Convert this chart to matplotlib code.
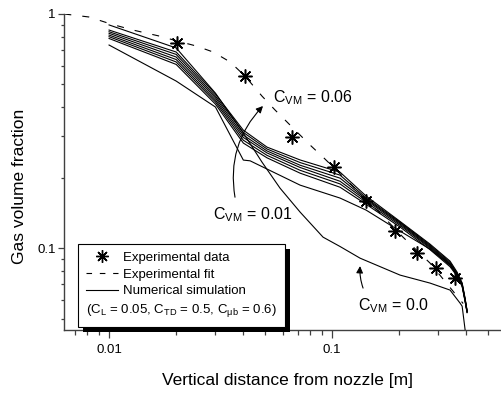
import matplotlib
matplotlib.use('Agg')
import matplotlib.pyplot as plt
from matplotlib.lines import Line2D
from matplotlib.patches import Rectangle
from matplotlib.transforms import IdentityTransform
from matplotlib.ticker import FixedLocator, FixedFormatter, LogLocator, NullFormatter

plt.rcParams['font.family'] = ['Liberation Sans', 'DejaVu Sans']
plt.rcParams['mathtext.fontset'] = 'custom'
plt.rcParams['mathtext.rm'] = 'Liberation Sans'
plt.rcParams['mathtext.it'] = 'Liberation Sans:italic'
plt.rcParams['mathtext.bf'] = 'Liberation Sans:bold'

# ---------------- data ----------------
x_exp = [0.0201, 0.0408, 0.066, 0.1024, 0.142, 0.1916, 0.240, 0.2916, 0.356]
y_exp = [0.754, 0.543, 0.299, 0.2226, 0.159, 0.1186, 0.0955, 0.0819, 0.0742]

x_fit = [0.0063, 0.00813, 0.0102, 0.0128, 0.0168, 0.0202, 0.0246, 0.0293, 0.0349,
         0.0407, 0.0485, 0.0555, 0.0697, 0.0797, 0.0911, 0.129, 0.164, 0.208, 0.275, 0.387]
y_fit = [1.0, 0.971, 0.906, 0.854, 0.805, 0.767, 0.730, 0.688, 0.624,
         0.543, 0.446, 0.389, 0.313, 0.2756, 0.2447, 0.177, 0.141, 0.1114, 0.0863, 0.058]

# C_VM = 0.0 simulation
x_cvm0 = [0.01, 0.02, 0.03, 0.04, 0.0485, 0.0584, 0.0719, 0.0911, 0.1086, 0.1335,
          0.2018, 0.275, 0.338, 0.375, 0.383, 0.395]
y_cvm0 = [0.898, 0.716, 0.459, 0.310, 0.233, 0.1805, 0.1425, 0.1114, 0.1016, 0.0906,
          0.0767, 0.0709, 0.0662, 0.0582, 0.0565, 0.0447]

# C_VM = 0.01 ... 0.06 simulations
x_sim = [0.01, 0.02, 0.03, 0.04, 0.0511, 0.0719, 0.1086, 0.142, 0.2018, 0.275,
         0.338, 0.3635, 0.383, 0.395, 0.403]
y_cvm006 = [0.854, 0.688, 0.455, 0.319, 0.270, 0.238, 0.211, 0.167, 0.130, 0.104,
            0.088, 0.079, 0.071, 0.061, 0.054]
y_cvm005 = [0.840, 0.672, 0.446, 0.312, 0.265, 0.232, 0.205, 0.164, 0.129, 0.103,
            0.087, 0.078, 0.0705, 0.0605, 0.054]
y_cvm004 = [0.827, 0.655, 0.438, 0.304, 0.260, 0.226, 0.199, 0.162, 0.128, 0.102,
            0.086, 0.0775, 0.070, 0.060, 0.0538]
y_cvm003 = [0.813, 0.639, 0.429, 0.297, 0.255, 0.221, 0.193, 0.160, 0.1266, 0.101,
            0.0854, 0.077, 0.0695, 0.0597, 0.0535]
y_cvm002 = [0.800, 0.624, 0.421, 0.289, 0.249, 0.215, 0.188, 0.157, 0.125, 0.100,
            0.0846, 0.0765, 0.069, 0.0594, 0.0533]
y_cvm001 = [0.786, 0.609, 0.412, 0.281, 0.243, 0.209, 0.182, 0.154, 0.123, 0.0985,
            0.0833, 0.076, 0.0685, 0.059, 0.053]

# additional simulation curve
x_sim_b = [0.01, 0.02, 0.03, 0.04, 0.0429, 0.0719, 0.1086, 0.142, 0.1916, 0.275,
           0.338, 0.3635, 0.383, 0.395, 0.403]
y_sim_b = [0.737, 0.517, 0.4005, 0.2377, 0.236, 0.1858, 0.1636, 0.1454, 0.1218, 0.0990,
           0.0846, 0.0767, 0.0694, 0.060, 0.0533]

legend_labels = ['Experimental data', 'Experimental fit', 'Numerical simulation']
param_text = r'(C$_{\rm L}$ = 0.05, C$_{\rm TD}$ = 0.5, C$_{\rm μb}$ = 0.6)'
x_ticks = [0.01, 0.1, 1]
x_ticklabels = ['0.01', '0.1', '1']
y_ticks = [0.1, 1]
y_ticklabels = ['0.1', '1']

# ---------------- figure ----------------
fig = plt.figure(figsize=(5.02, 3.95), dpi=100)
ax = fig.add_axes([64 / 502, 1 - 330 / 395, (502 - 64) / 502, (330 - 14) / 395])
ax.set_xscale('log')
ax.set_yscale('log')
ax.set_xlim(0.00628, 0.578)
ax.set_ylim(0.0447, 1.0)

lw = 0.8
ax.plot(x_fit, y_fit, color='k', lw=lw, dashes=(6.3, 10), zorder=2)
for ys in [y_cvm006, y_cvm005, y_cvm004, y_cvm003, y_cvm002, y_cvm001]:
    ax.plot(x_sim, ys, color='k', lw=lw, zorder=3)
ax.plot(x_sim_b, y_sim_b, color='k', lw=lw, zorder=3)
ax.plot(x_cvm0, y_cvm0, color='k', lw=lw, zorder=3)
ax.plot(x_exp, y_exp, ls='none', marker=(8, 2, 0), ms=10, mew=1.1, color='k', zorder=4)

# annotations
tfs = 11.5
ax.text(0.0544, 0.4206, r'C$_{\rm VM}$ = 0.06', fontsize=tfs, ha='left', va='baseline')
ax.text(0.0293, 0.133, r'C$_{\rm VM}$ = 0.01', fontsize=tfs, ha='left', va='baseline')
ax.text(0.1308, 0.0543, r'C$_{\rm VM}$ = 0.0', fontsize=tfs, ha='left', va='baseline')
ax.annotate('', xy=(0.049, 0.4045), xytext=(0.0367, 0.165),
            arrowprops=dict(arrowstyle='-|>', connectionstyle='arc3,rad=-0.25',
                            color='k', lw=0.8, mutation_scale=10, shrinkA=0, shrinkB=0))
ax.annotate('', xy=(0.1335, 0.0838), xytext=(0.1377, 0.0675),
            arrowprops=dict(arrowstyle='-|>', connectionstyle='arc3,rad=-0.1',
                            color='k', lw=0.8, mutation_scale=10, shrinkA=0, shrinkB=0))

# axes styling
for s in ['top', 'right']:
    ax.spines[s].set_visible(False)
for s in ['left', 'bottom']:
    ax.spines[s].set_color('#404040')
    ax.spines[s].set_linewidth(1.0)

ax.xaxis.set_major_locator(FixedLocator(x_ticks))
ax.xaxis.set_major_formatter(FixedFormatter(x_ticklabels))
ax.xaxis.set_minor_locator(LogLocator(base=10, subs=range(2, 10), numticks=20))
ax.xaxis.set_minor_formatter(NullFormatter())
ax.yaxis.set_major_locator(FixedLocator(y_ticks))
ax.yaxis.set_major_formatter(FixedFormatter(y_ticklabels))
ax.yaxis.set_minor_locator(LogLocator(base=10, subs=range(2, 10), numticks=20))
ax.yaxis.set_minor_formatter(NullFormatter())

ax.tick_params(axis='x', which='major', direction='out', length=6, width=0.9,
               color='#404040', labelsize=9.5, pad=4)
ax.tick_params(axis='x', which='minor', direction='out', length=3.5, width=0.9, color='#404040')
ax.tick_params(axis='y', which='major', direction='out', length=4, width=0.9,
               color='#404040', labelsize=9.5, pad=2)
ax.tick_params(axis='y', which='minor', direction='out', length=2.5, width=0.9, color='#404040')

ax.set_xlabel('Vertical distance from nozzle [m]', fontsize=12.5)
ax.set_ylabel('Gas volume fraction', fontsize=12.5)
ax.xaxis.set_label_coords(0.511, -0.137)
ax.yaxis.set_label_coords(-0.085, 0.456)

# legend
h_exp = Line2D([], [], color='k', marker=(8, 2, 0), ls='none', ms=9, mew=1.0)
h_fit = Line2D([], [], color='k', lw=lw, dashes=(5, 7))
h_sim = Line2D([], [], color='k', lw=lw)
leg = ax.legend([h_exp, h_fit, h_sim], legend_labels, title=param_text, alignment='left',
                loc='lower left', bbox_to_anchor=(0.032, 0.0095), borderaxespad=0,
                frameon=True, fancybox=False, edgecolor='k', framealpha=1,
                fontsize=9.5, title_fontsize=9.5, handlelength=2.4, handletextpad=0.4,
                labelspacing=0.35, borderpad=0.6)
leg.get_frame().set_linewidth(0.8)
try:
    leg._legend_box._children = [leg._legend_handle_box, leg._legend_title_box]
except Exception:
    pass

fig.canvas.draw()
bb = leg.get_window_extent()
shadow = Rectangle((bb.x0 + 5, bb.y0 - 5), bb.width, bb.height, transform=IdentityTransform(),
                   facecolor='k', edgecolor='none', zorder=leg.get_zorder() - 0.5, clip_on=False)
ax.add_artist(shadow)

fig.savefig('out.png', dpi=100)
